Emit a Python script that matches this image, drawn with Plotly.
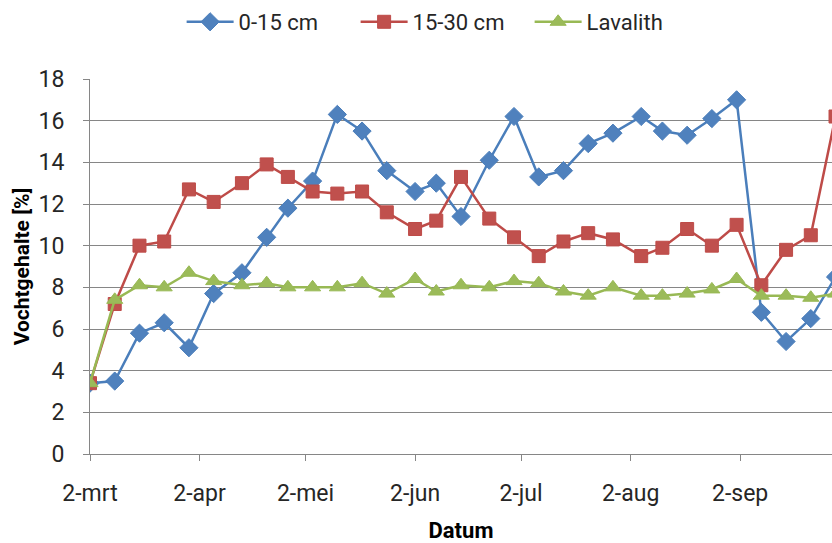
import plotly.graph_objects as go

dates = ["2010-03-02", "2010-03-09", "2010-03-16", "2010-03-23", "2010-03-30",
         "2010-04-06", "2010-04-14", "2010-04-21", "2010-04-27", "2010-05-04",
         "2010-05-11", "2010-05-18", "2010-05-25", "2010-06-02", "2010-06-08",
         "2010-06-15", "2010-06-23", "2010-06-30", "2010-07-07", "2010-07-14",
         "2010-07-21", "2010-07-28", "2010-08-05", "2010-08-11", "2010-08-18",
         "2010-08-25", "2010-09-01", "2010-09-08", "2010-09-15", "2010-09-22",
         "2010-09-29"]

depth_0_15 = [3.4, 3.5, 5.8, 6.3, 5.1, 7.7, 8.7, 10.4, 11.8, 13.1,
              16.3, 15.5, 13.6, 12.6, 13.0, 11.4, 14.1, 16.2, 13.3, 13.6,
              14.9, 15.4, 16.2, 15.5, 15.3, 16.1, 17.0, 6.8, 5.4, 6.5, 8.5]

depth_15_30 = [3.4, 7.2, 10.0, 10.2, 12.7, 12.1, 13.0, 13.9, 13.3, 12.6,
               12.5, 12.6, 11.6, 10.8, 11.2, 13.3, 11.3, 10.4, 9.5, 10.2,
               10.6, 10.3, 9.5, 9.9, 10.8, 10.0, 11.0, 8.1, 9.8, 10.5, 16.2]

lavalith = [3.4, 7.4, 8.1, 8.0, 8.7, 8.3, 8.1, 8.2, 8.0, 8.0,
            8.0, 8.2, 7.7, 8.4, 7.8, 8.1, 8.0, 8.3, 8.2, 7.8,
            7.6, 8.0, 7.6, 7.6, 7.7, 7.9, 8.4, 7.6, 7.6, 7.5, 7.7]

tick_dates = ["2010-03-02", "2010-04-02", "2010-05-02", "2010-06-02",
              "2010-07-02", "2010-08-02", "2010-09-02"]
tick_labels = ["2-mrt", "2-apr", "2-mei", "2-jun", "2-jul", "2-aug", "2-sep"]

FONT = "Roboto, sans-serif"
TXT = "#262626"

fig = go.Figure()
fig.add_trace(go.Scatter(x=dates, y=depth_0_15, name="0-15 cm", mode="lines+markers",
                         line=dict(color="#4A7EBB", width=2.5),
                         marker=dict(symbol="diamond", size=14, color="#4F81BD",
                                     line=dict(color="#4A7EBB", width=1))))
fig.add_trace(go.Scatter(x=dates, y=depth_15_30, name="15-30 cm", mode="lines+markers",
                         line=dict(color="#BE4B48", width=2.5),
                         marker=dict(symbol="square", size=13, color="#C0504D",
                                     line=dict(color="#BE4B48", width=1))))
fig.add_trace(go.Scatter(x=dates, y=lavalith, name="Lavalith", mode="lines+markers",
                         line=dict(color="#98B954", width=2.5),
                         marker=dict(symbol="triangle-up", size=14, color="#9BBB59",
                                     line=dict(color="#98B954", width=1))))

fig.update_layout(
    width=832, height=543,
    margin=dict(l=90, r=0, t=79, b=89, autoexpand=False),
    paper_bgcolor="white", plot_bgcolor="white",
    font=dict(family=FONT, size=23, color=TXT),
    showlegend=True,
    legend=dict(orientation="h", xref="container", x=0.532, xanchor="center",
                yref="container", y=0.9595, yanchor="middle",
                itemwidth=47, entrywidth=112, entrywidthmode="pixels",
                font=dict(size=22, color=TXT),
                bgcolor="rgba(0,0,0,0)"),
    xaxis=dict(type="date", range=["2010-03-02", "2010-09-28"],
               tickvals=tick_dates, ticktext=tick_labels, automargin=False,
               showgrid=False, showline=True, linecolor="#868686", linewidth=1,
               ticks="outside", ticklen=6, tickcolor="#868686",
               tickfont=dict(size=23), zeroline=False, ticklabelstandoff=12,
               title=dict(text="<b>Datum</b>", font=dict(size=22, color="#000"), standoff=24)),
    yaxis=dict(range=[0, 18], dtick=2, tick0=0, automargin=False,
               showgrid=True, gridcolor="#868686", gridwidth=1,
               showline=True, linecolor="#868686", linewidth=1,
               ticks="outside", ticklen=6, tickcolor="#868686",
               tickfont=dict(size=23), zeroline=False, ticklabelstandoff=14,
               title=dict(text="<b>Vochtgehalte [%]</b>", font=dict(size=21, color="#000"), standoff=3)),
)

fig.write_html("out.html", config={"displayModeBar": False},
               post_script="document.body.style.margin='0';document.body.style.overflow='hidden';")
